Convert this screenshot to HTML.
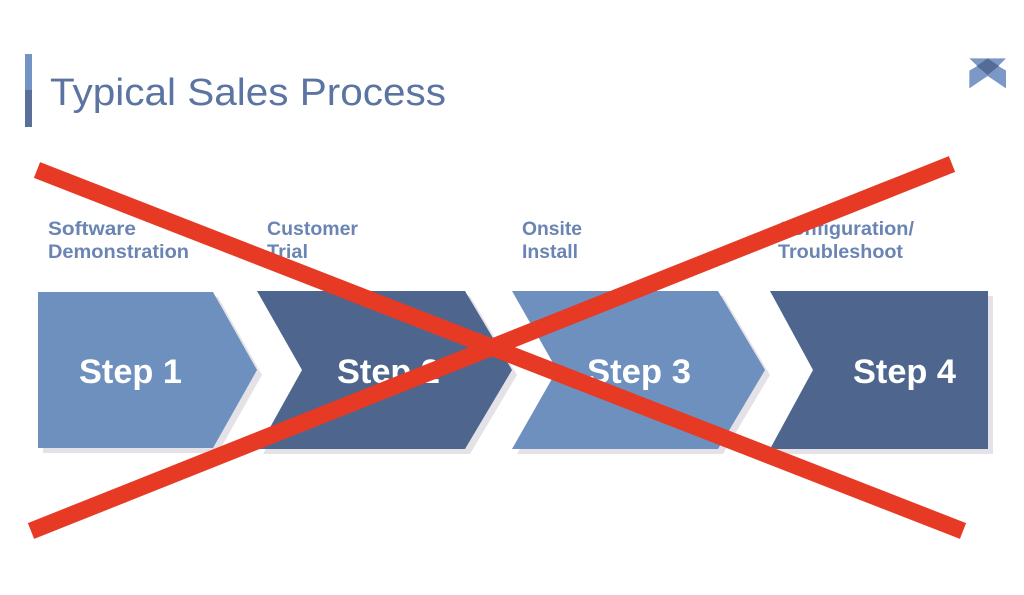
<!DOCTYPE html>
<html>
<head>
<meta charset="utf-8">
<style>
  html,body{margin:0;padding:0;background:#ffffff;}
  body{width:1024px;height:595px;overflow:hidden;}
  svg{display:block;}
  text{font-family:"Liberation Sans", sans-serif;}
</style>
</head>
<body>
<svg width="1024" height="595" viewBox="0 0 1024 595" xmlns="http://www.w3.org/2000/svg">
  <rect width="1024" height="595" fill="#ffffff"/>

  <!-- title bar -->
  <rect x="25" y="54" width="7" height="36" fill="#7393C3"/>
  <rect x="25" y="90" width="7" height="37" fill="#5B7099"/>
  <text x="50" y="105" font-size="38" fill="#5B74A2" textLength="396" lengthAdjust="spacingAndGlyphs">Typical Sales Process</text>

  <!-- logo -->
  <g transform="translate(930,40) scale(0.3333)">
    <polygon points="118,55 228,55 205,78 228,92 228,145 173,108 118,145 118,92 142,78" fill="#7C98C6"/>
    <polygon points="173,55 207,78 173,105 140,78" fill="#566C96"/>
  </g>

  <!-- labels -->
  <g font-size="19" font-weight="bold" fill="#6A85B3">
    <text x="48" y="235" textLength="88" lengthAdjust="spacingAndGlyphs">Software</text>
    <text x="48" y="258" textLength="141" lengthAdjust="spacingAndGlyphs">Demonstration</text>
    <text x="267" y="235" textLength="91" lengthAdjust="spacingAndGlyphs">Customer</text>
    <text x="267" y="258" textLength="41" lengthAdjust="spacingAndGlyphs">Trial</text>
    <text x="522" y="235" textLength="60" lengthAdjust="spacingAndGlyphs">Onsite</text>
    <text x="522" y="258" textLength="56" lengthAdjust="spacingAndGlyphs">Install</text>
    <text x="778" y="235" textLength="136" lengthAdjust="spacingAndGlyphs">Configuration/</text>
    <text x="778" y="258" textLength="125" lengthAdjust="spacingAndGlyphs">Troubleshoot</text>
  </g>

  <!-- shadows -->
  <g fill="#E4E2E7" transform="translate(5,5)">
    <polygon points="38,292 213,292 257,370 213,448 38,448"/>
    <polygon points="257,291 465,291 512,370 465,449 258,449 302,370"/>
    <polygon points="512,291 718,291 765,370 718,449 512,449 557,370"/>
    <polygon points="770,291 988,291 988,449 770,449 813,370"/>
  </g>

  <!-- chevrons -->
  <polygon points="38,292 213,292 257,370 213,448 38,448" fill="#6E90BE"/>
  <polygon points="257,291 465,291 512,370 465,449 258,449 302,370" fill="#4E668D"/>
  <polygon points="512,291 718,291 765,370 718,449 512,449 557,370" fill="#6E90BE"/>
  <polygon points="770,291 988,291 988,449 770,449 813,370" fill="#4E668D"/>

  <!-- step labels -->
  <g font-size="34" font-weight="bold" fill="#ffffff">
    <text x="79" y="383" textLength="103" lengthAdjust="spacingAndGlyphs">Step 1</text>
    <text x="337" y="383" textLength="103" lengthAdjust="spacingAndGlyphs">Step 2</text>
    <text x="587" y="383" textLength="104" lengthAdjust="spacingAndGlyphs">Step 3</text>
    <text x="853" y="383" textLength="103" lengthAdjust="spacingAndGlyphs">Step 4</text>
  </g>

  <!-- red X -->
  <g stroke="#E63A25" stroke-width="17" stroke-linecap="butt">
    <line x1="37" y1="170" x2="963" y2="531"/>
    <line x1="31" y1="531" x2="952" y2="164"/>
  </g>
</svg>
</body>
</html>
